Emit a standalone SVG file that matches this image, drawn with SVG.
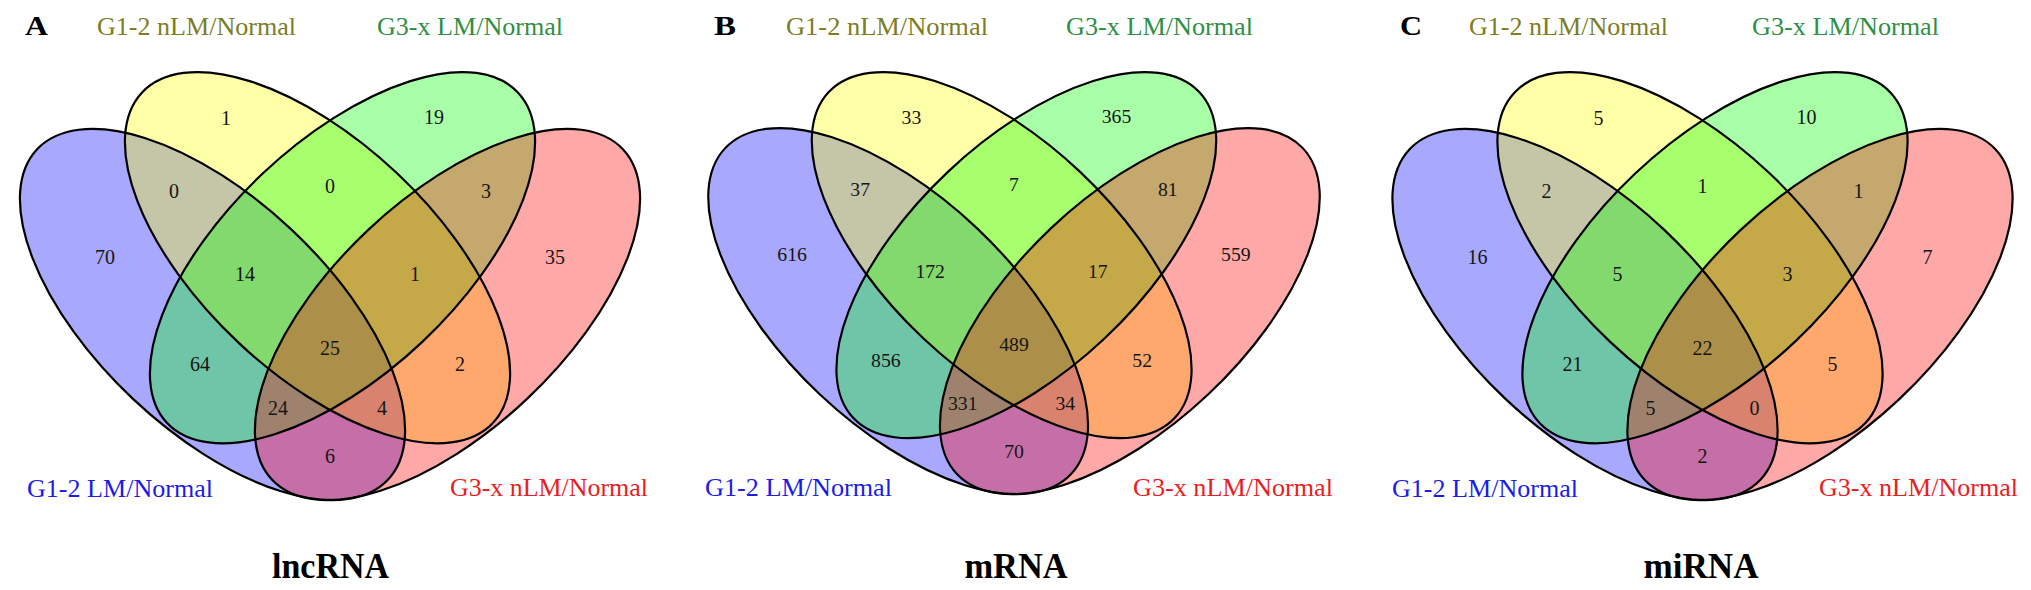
<svg xmlns="http://www.w3.org/2000/svg" xmlns:xlink="http://www.w3.org/1999/xlink" width="2031" height="590" viewBox="0 0 2031 590">
<style>
  .fill { stroke: none; fill-opacity: 0.34; }
  .fb { fill: #0000ff; } .fy { fill: #ffff00; } .fg { fill: #00ff00; } .fr { fill: #ff0000; }
  .outline { fill: none; stroke: #000; stroke-width: 2.2; }
  .num { font-family: "Liberation Serif", "Times New Roman", serif; font-size: 20px; fill: #151515; text-anchor: middle; }
  .cat { font-family: "Liberation Serif", "Times New Roman", serif; font-size: 26px; }
  .c-yl { fill: #7d7d24; } .c-gr { fill: #2f8f45; } .c-bl { fill: #1c1ce6; } .c-rd { fill: #ea1e1e; }
  .panel { font-family: "Liberation Serif", "Times New Roman", serif; font-size: 27px; font-weight: bold; fill: #000; }
  .title { font-family: "Liberation Serif", "Times New Roman", serif; font-size: 35px; font-weight: bold; fill: #000; text-anchor: middle; }
</style>
<defs>
  <ellipse id="eBlue" cx="212.5" cy="314.5" rx="241" ry="116" transform="rotate(43.3 212.5 314.5)"/>
  <ellipse id="eYellow" cx="317.5" cy="257.7" rx="241" ry="116" transform="rotate(43.3 317.5 257.7)"/>
  <ellipse id="eGreen" cx="342.5" cy="257.7" rx="241" ry="116" transform="rotate(-43.3 342.5 257.7)"/>
  <ellipse id="eRed" cx="447.5" cy="314.5" rx="241" ry="116" transform="rotate(-43.3 447.5 314.5)"/>
  <g id="vennShapes">
    <g id="fills">
      <use xlink:href="#eBlue" class="fill fb"/>
      <use xlink:href="#eYellow" class="fill fy"/>
      <use xlink:href="#eGreen" class="fill fg"/>
      <use xlink:href="#eRed" class="fill fr"/>
    </g>
    <g id="outlines">
      <use xlink:href="#eBlue" class="outline"/>
      <use xlink:href="#eYellow" class="outline"/>
      <use xlink:href="#eGreen" class="outline"/>
      <use xlink:href="#eRed" class="outline"/>
    </g>
  </g>
</defs>

<!-- Panel A -->
<g id="panelA">
  <g id="A-venn">
    <g id="A-sets"><use xlink:href="#vennShapes"/></g>
    <g id="A-counts" class="num">
      <text x="226" y="125">1</text>
      <text x="434" y="124">19</text>
      <text x="174" y="198">0</text>
      <text x="330" y="193">0</text>
      <text x="486" y="198">3</text>
      <text x="105" y="264">70</text>
      <text x="245" y="281">14</text>
      <text x="415" y="281">1</text>
      <text x="555" y="264">35</text>
      <text x="200" y="371">64</text>
      <text x="330" y="355">25</text>
      <text x="460" y="371">2</text>
      <text x="278" y="415">24</text>
      <text x="382" y="415">4</text>
      <text x="330" y="463">6</text>
    </g>
  </g>
  <g id="A-labels">
    <text class="panel" x="25" y="35" textLength="23" lengthAdjust="spacingAndGlyphs">A</text>
    <text class="cat c-yl" x="97" y="35" textLength="199" lengthAdjust="spacingAndGlyphs">G1-2 nLM/Normal</text>
    <text class="cat c-gr" x="377" y="35" textLength="186" lengthAdjust="spacingAndGlyphs">G3-x LM/Normal</text>
    <text class="cat c-bl" x="27" y="497" textLength="186" lengthAdjust="spacingAndGlyphs">G1-2 LM/Normal</text>
    <text class="cat c-rd" x="450" y="496" textLength="198" lengthAdjust="spacingAndGlyphs">G3-x nLM/Normal</text>
    <text class="title" x="330.5" y="578" textLength="117" lengthAdjust="spacingAndGlyphs">lncRNA</text>
  </g>
</g>

<!-- Panel B -->
<g id="panelB">
  <g id="B-venn" transform="translate(1014 71) scale(0.986) translate(-330 -71)">
    <g id="B-sets"><use xlink:href="#vennShapes"/></g>
    <g id="B-counts" class="num">
      <text x="226" y="125">33</text>
      <text x="434" y="124">365</text>
      <text x="174" y="198">37</text>
      <text x="330" y="193">7</text>
      <text x="486" y="198">81</text>
      <text x="105" y="264">616</text>
      <text x="245" y="281">172</text>
      <text x="415" y="281">17</text>
      <text x="555" y="264">559</text>
      <text x="200" y="371">856</text>
      <text x="330" y="355">489</text>
      <text x="460" y="371">52</text>
      <text x="278" y="415">331</text>
      <text x="382" y="415">34</text>
      <text x="330" y="463">70</text>
    </g>
  </g>
  <g id="B-labels">
    <text class="panel" x="714" y="35" textLength="22" lengthAdjust="spacingAndGlyphs">B</text>
    <text class="cat c-yl" x="786" y="35" textLength="202" lengthAdjust="spacingAndGlyphs">G1-2 nLM/Normal</text>
    <text class="cat c-gr" x="1066" y="35" textLength="187" lengthAdjust="spacingAndGlyphs">G3-x LM/Normal</text>
    <text class="cat c-bl" x="705" y="496" textLength="187" lengthAdjust="spacingAndGlyphs">G1-2 LM/Normal</text>
    <text class="cat c-rd" x="1133" y="496" textLength="200" lengthAdjust="spacingAndGlyphs">G3-x nLM/Normal</text>
    <text class="title" x="1016" y="578" textLength="103" lengthAdjust="spacingAndGlyphs">mRNA</text>
  </g>
</g>

<!-- Panel C -->
<g id="panelC">
  <g id="C-venn" transform="translate(1372.5 0)">
    <g id="C-sets"><use xlink:href="#vennShapes"/></g>
    <g id="C-counts" class="num">
      <text x="226" y="125">5</text>
      <text x="434" y="124">10</text>
      <text x="174" y="198">2</text>
      <text x="330" y="193">1</text>
      <text x="486" y="198">1</text>
      <text x="105" y="264">16</text>
      <text x="245" y="281">5</text>
      <text x="415" y="281">3</text>
      <text x="555" y="264">7</text>
      <text x="200" y="371">21</text>
      <text x="330" y="355">22</text>
      <text x="460" y="371">5</text>
      <text x="278" y="415">5</text>
      <text x="382" y="415">0</text>
      <text x="330" y="463">2</text>
    </g>
  </g>
  <g id="C-labels">
    <text class="panel" x="1400" y="35" textLength="22" lengthAdjust="spacingAndGlyphs">C</text>
    <text class="cat c-yl" x="1469" y="35" textLength="199" lengthAdjust="spacingAndGlyphs">G1-2 nLM/Normal</text>
    <text class="cat c-gr" x="1752" y="35" textLength="187" lengthAdjust="spacingAndGlyphs">G3-x LM/Normal</text>
    <text class="cat c-bl" x="1392" y="497" textLength="186" lengthAdjust="spacingAndGlyphs">G1-2 LM/Normal</text>
    <text class="cat c-rd" x="1819" y="496" textLength="199" lengthAdjust="spacingAndGlyphs">G3-x nLM/Normal</text>
    <text class="title" x="1701" y="578" textLength="115" lengthAdjust="spacingAndGlyphs">miRNA</text>
  </g>
</g>
</svg>
